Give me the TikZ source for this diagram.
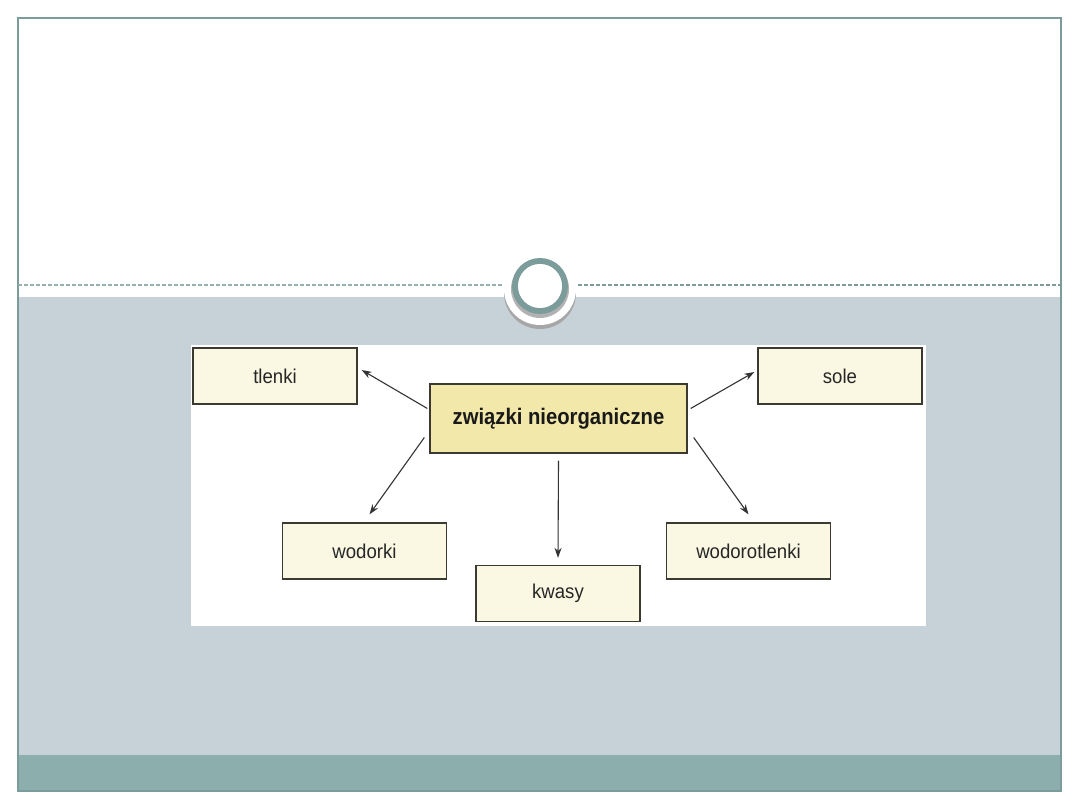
\documentclass[tikz,border=0pt]{standalone}
\usepackage{fontspec}
\setmainfont{Liberation Sans}
\newfontfamily\narrowfont[FakeStretch=0.93]{Liberation Sans}
\newfontfamily\hubfont[FakeStretch=0.9]{Liberation Sans}
\usetikzlibrary{calc,arrows.meta,shadows}
\definecolor{frameteal}{HTML}{7B9C9B}
\definecolor{bandteal}{HTML}{8CAFAE}
\definecolor{paneblue}{HTML}{C6D2D8}
\definecolor{creamfill}{HTML}{FAF8E2}
\definecolor{yellowfill}{HTML}{F2E8AA}
\definecolor{boxline}{HTML}{3A3A33}
\tikzset{
  leaf/.style={draw=boxline, line width=1.3pt, fill=creamfill, minimum width=164pt, minimum height=56pt, inner sep=0pt, font=\narrowfont\fontsize{20}{22}\selectfont, text=black!85},
  hub/.style={draw=boxline, line width=1.3pt, fill=yellowfill, minimum width=257pt, minimum height=69pt, inner sep=0pt, font=\hubfont\bfseries\fontsize{22.5}{25}\selectfont, text=black!90},
  arr/.style={-{Stealth[length=10pt,width=7pt]}, line width=1.1pt, draw=black!80},
  dashline/.style={draw=frameteal, line width=1.2pt, dash pattern=on 4pt off 2pt}
}
\begin{document}
\begin{tikzpicture}[x=1pt,y=-1pt]
\useasboundingbox (0,0) rectangle (1080,810);
\fill[white] (0,0) rectangle (1080,810);
% panes
\fill[paneblue] (18,297) rectangle (1061,755);
\fill[bandteal] (18,755) rectangle (1061,791);
\draw[frameteal, line width=2pt] (18,18) rectangle (1061,791);
% dashed separator
\coordinate (dl1) at (18,285);
\coordinate (dl2) at (503,285);
\coordinate (dr1) at (578,285);
\coordinate (dr2) at (1061,285);
\draw[dashline, draw=frameteal!80] (dl1) -- (dl2);
\draw[dashline] (dr1) -- (dr2);
% circle ornament
\fill[black!35] (540,293) circle (36);
\fill[white] (540,289) circle (36);
\fill[black!30] (540,289) circle (29);
\draw[frameteal, line width=6pt] (540,286) circle (25);
\fill[white] (540,286) circle (22);
% picture area
\fill[white] (191,345) rectangle (926,626);
% nodes
\node[hub] (z) at (558.5,418.5) {związki nieorganiczne};
\node[leaf] (t) at (275,376) {tlenki};
\node[leaf] (s) at (840,376) {sole};
\node[leaf] (w) at (364.5,551) {wodorki};
\node[leaf] (k) at (558,593.5) {kwasy};
\node[leaf] (h) at (748.5,551) {wodorotlenki};
% connectors
\draw[arr] ($(z.west)+(-2,-10)$) -- ($(t.east)+(4,-6)$);
\draw[arr] ($(z.east)+(3,-10)$) -- ($(s.west)+(-3,-4)$);
\draw[arr] ($(z.west)+(-5,19)$) -- ($(w.north)+(5,-8)$);
\draw[arr] ($(z.south)+(0,7)$) -- ($(k.north)+(0,-7)$);
\draw[arr] ($(z.east)+(6,19)$) -- ($(h.north)+(0,-8)$);
\end{tikzpicture}
\end{document}
